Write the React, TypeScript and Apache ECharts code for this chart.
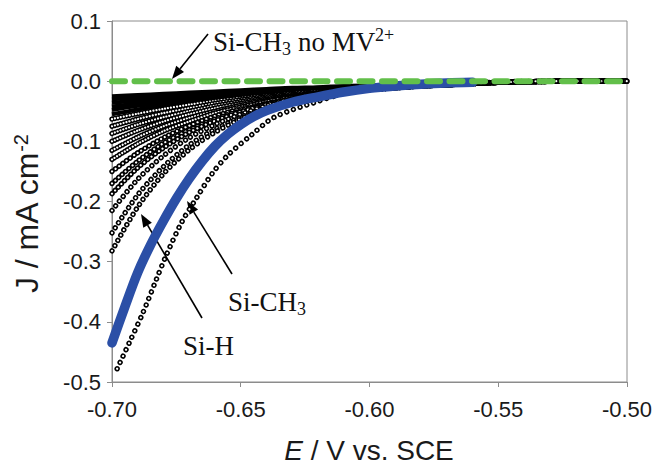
import React, { useEffect, useRef } from "react";
import * as echarts from "echarts";

// ---- data ----
const E_GRID = [-0.70, -0.69, -0.68, -0.67, -0.66, -0.65, -0.64, -0.63, -0.62, -0.61, -0.60, -0.59, -0.58, -0.57, -0.56, -0.55, -0.54, -0.52, -0.50];

const scan01 = [-0.025, -0.023, -0.021, -0.019, -0.017, -0.015, -0.013, -0.011, -0.010, -0.008, -0.007, -0.006, -0.005, -0.004, -0.003, -0.002, -0.001, 0, 0];
const scan02 = [-0.030, -0.027, -0.024, -0.021, -0.019, -0.017, -0.015, -0.013, -0.011, -0.009, -0.008, -0.006, -0.005, -0.004, -0.003, -0.002, -0.001, 0, 0];
const scan03 = [-0.036, -0.032, -0.028, -0.025, -0.022, -0.019, -0.017, -0.015, -0.013, -0.011, -0.009, -0.007, -0.006, -0.004, -0.003, -0.002, -0.001, 0, 0];
const scan04 = [-0.042, -0.037, -0.032, -0.028, -0.024, -0.021, -0.018, -0.016, -0.014, -0.012, -0.010, -0.008, -0.006, -0.005, -0.003, -0.002, -0.001, 0, 0];
const scan05 = [-0.048, -0.041, -0.036, -0.031, -0.026, -0.023, -0.019, -0.017, -0.014, -0.012, -0.010, -0.008, -0.006, -0.005, -0.003, -0.002, -0.001, 0, 0];
const scan06 = [-0.055, -0.047, -0.040, -0.034, -0.029, -0.025, -0.021, -0.018, -0.016, -0.013, -0.011, -0.009, -0.007, -0.005, -0.003, -0.002, -0.001, 0, 0];
const scan07 = [-0.063, -0.054, -0.046, -0.039, -0.033, -0.028, -0.024, -0.020, -0.017, -0.015, -0.012, -0.010, -0.008, -0.005, -0.003, -0.002, -0.001, 0, 0];
const scan08 = [-0.075, -0.063, -0.053, -0.045, -0.037, -0.031, -0.026, -0.022, -0.019, -0.016, -0.013, -0.010, -0.008, -0.006, -0.004, -0.002, -0.001, 0, 0];
const scan09 = [-0.087, -0.072, -0.060, -0.050, -0.041, -0.034, -0.028, -0.024, -0.020, -0.016, -0.013, -0.010, -0.008, -0.006, -0.004, -0.002, -0.001, 0, 0];
const scan10 = [-0.100, -0.082, -0.067, -0.055, -0.045, -0.037, -0.030, -0.025, -0.020, -0.017, -0.014, -0.011, -0.008, -0.006, -0.004, -0.002, -0.001, 0, 0];
const scan11 = [-0.115, -0.093, -0.075, -0.061, -0.050, -0.040, -0.032, -0.026, -0.021, -0.017, -0.014, -0.011, -0.008, -0.006, -0.004, -0.002, -0.001, 0, 0];
const scan12 = [-0.130, -0.104, -0.083, -0.067, -0.053, -0.043, -0.034, -0.027, -0.022, -0.017, -0.014, -0.011, -0.008, -0.006, -0.004, -0.002, -0.001, 0, 0];
const scan13 = [-0.150, -0.119, -0.094, -0.074, -0.058, -0.046, -0.037, -0.029, -0.023, -0.018, -0.014, -0.011, -0.008, -0.006, -0.004, -0.002, -0.001, 0, 0];
const scan14 = [-0.170, -0.133, -0.103, -0.081, -0.063, -0.049, -0.038, -0.030, -0.023, -0.018, -0.014, -0.011, -0.008, -0.006, -0.004, -0.002, -0.001, 0, 0];
const scan15 = [-0.187, -0.144, -0.111, -0.085, -0.066, -0.051, -0.039, -0.030, -0.023, -0.018, -0.014, -0.011, -0.008, -0.006, -0.004, -0.002, -0.001, 0, 0];
const scan16 = [-0.215, -0.163, -0.124, -0.094, -0.072, -0.055, -0.041, -0.032, -0.024, -0.018, -0.014, -0.011, -0.008, -0.006, -0.004, -0.002, -0.001, 0, 0];
const scan17 = [-0.252, -0.189, -0.142, -0.106, -0.080, -0.060, -0.045, -0.034, -0.025, -0.019, -0.014, -0.011, -0.008, -0.006, -0.004, -0.002, -0.001, 0, 0];
const scan18 = [-0.282, -0.209, -0.154, -0.114, -0.085, -0.063, -0.046, -0.034, -0.025, -0.019, -0.014, -0.011, -0.008, -0.006, -0.004, -0.002, -0.001, 0, 0];

// lowest open-circle curve (Si-CH3)
const lowE = [-0.698, -0.693, -0.688, -0.683, -0.679, -0.673, -0.667, -0.661, -0.655, -0.646, -0.637, -0.621, -0.607, -0.595, -0.580, -0.565, -0.550, -0.530, -0.500];
const lowJ = [-0.478, -0.432, -0.385, -0.332, -0.290, -0.235, -0.193, -0.153, -0.123, -0.090, -0.060, -0.035, -0.017, -0.010, -0.005, -0.002, -0.001, 0, 0];

// blue filled-circle curve (Si-H)
const blueE = [-0.700, -0.695, -0.690, -0.685, -0.680, -0.675, -0.670, -0.665, -0.660, -0.655, -0.650, -0.645, -0.640, -0.630, -0.620, -0.610, -0.600, -0.590, -0.580, -0.570, -0.560];
const blueJ = [-0.435, -0.375, -0.318, -0.272, -0.232, -0.195, -0.162, -0.133, -0.108, -0.088, -0.072, -0.059, -0.049, -0.035, -0.026, -0.018, -0.012, -0.008, -0.005, -0.003, -0.002];

// green dashed (Si-CH3 no MV2+)
const greenE = [-0.70, -0.50];
const greenJ = [0, 0];

const X_MIN = -0.70, X_MAX = -0.50, X_STEP = 0.05;
const Y_MIN = -0.5, Y_MAX = 0.1, Y_STEP = 0.1;

const SCANS = [scan01, scan02, scan03, scan04, scan05, scan06, scan07, scan08, scan09, scan10, scan11, scan12, scan13, scan14, scan15, scan16, scan17, scan18];

function zip(xs: number[], ys: number[]) {
  return xs.map((x, i) => [x, ys[i]]);
}

function chain(name: string, data: number[][], spacing: number): any[] {
  const base = {
    type: "line",
    name,
    data,
    symbol: "none",
    showSymbol: false,
    smooth: 0.3,
    silent: true,
  };
  return [
    { ...base, lineStyle: { color: "#000", width: 5.4, type: [0.01, spacing], cap: "round" } },
    { ...base, lineStyle: { color: "#fff", width: 2.2, type: [0.01, spacing], cap: "round" } },
  ];
}

function arrow(x1: number, y1: number, x2: number, y2: number): any {
  const a = Math.atan2(y2 - y1, x2 - x1);
  const L = 13, W = 5;
  const bx = x2 - L * Math.cos(a), by = y2 - L * Math.sin(a);
  const px = -Math.sin(a), py = Math.cos(a);
  return {
    type: "group",
    children: [
      { type: "line", shape: { x1, y1, x2: bx, y2: by }, style: { stroke: "#000", lineWidth: 1.6 } },
      {
        type: "polygon",
        shape: { points: [[x2, y2], [bx + W * px, by + W * py], [bx - W * px, by - W * py]] },
        style: { fill: "#000" },
      },
    ],
  };
}

const SERIF = "'Liberation Serif', 'DejaVu Serif', serif";
const SANS = "'Liberation Sans', Arial, sans-serif";

function label(text: string, x: number, y: number, size: number): any {
  return {
    type: "text", x, y,
    style: {
      text, font: size + "px " + SERIF, fill: "#111",
      align: "left", verticalAlign: "middle", textAlign: "left", textVerticalAlign: "middle",
    },
  };
}

export default function App() {
  const ref = useRef<HTMLDivElement>(null);
  useEffect(() => {
    if (!ref.current) return;
    const chart = echarts.init(ref.current, undefined, { renderer: "svg" });
    const series: any[] = [];
    SCANS.forEach((s, i) => {
      const data = zip(E_GRID, s);
      if (i < 6) {
        series.push({
          type: "line", name: "scan" + (i + 1), data, symbol: "none", showSymbol: false,
          smooth: 0.3, silent: true,
          lineStyle: { color: "#000", width: 4 },
        });
      } else {
        const sp = i < 12 ? 3 : i < 15 ? 4.5 : 6;
        series.push(...chain("scan" + (i + 1), data, sp));
      }
    });
    series.push(...chain("Si-CH3", zip(lowE, lowJ), 7));
    series.push({
      type: "line", name: "Si-H", data: zip(blueE, blueJ), symbol: "none", showSymbol: false,
      smooth: 0.3, clip: false, silent: true,
      lineStyle: { color: "#2b4fa6", width: 9.5, cap: "round", join: "round" },
    });
    series.push({
      type: "line", name: "Si-CH3 no MV2+", data: zip(greenE, greenJ), symbol: "none", showSymbol: false,
      clip: false, silent: true,
      lineStyle: { color: "#62bf4a", width: 6, type: [13, 9.5], cap: "round" },
    });

    const axisGray = "#8c8c8c";
    const ink = "#1a1a1a";
    chart.setOption({
      animation: false,
      backgroundColor: "#fff",
      grid: { left: 112, right: 26, top: 21, bottom: 82, show: true, borderColor: axisGray, borderWidth: 1, containLabel: false, outerBoundsMode: "none" },
      xAxis: {
        type: "value", min: X_MIN, max: X_MAX, interval: X_STEP,
        axisLine: { show: true, onZero: false, lineStyle: { color: axisGray, width: 1 } },
        axisTick: { show: true, inside: false, length: 5, lineStyle: { color: axisGray } },
        splitLine: { show: false },
        axisLabel: { margin: 16, fontSize: 22, color: ink, fontFamily: SANS, formatter: (v: number) => v.toFixed(2) },
      },
      yAxis: {
        type: "value", min: Y_MIN, max: Y_MAX, interval: Y_STEP,
        axisLine: { show: true, onZero: false, lineStyle: { color: axisGray, width: 1 } },
        axisTick: { show: true, inside: false, length: 5, lineStyle: { color: axisGray } },
        splitLine: { show: false },
        axisLabel: { margin: 11, fontSize: 22, color: ink, fontFamily: SANS, formatter: (v: number) => v.toFixed(1) },
      },
      series,
      graphic: [
        {
          type: "text", x: 27, y: 214, rotation: Math.PI / 2,
          style: {
            text: "{a|J / mA cm}{s|-2}",
            align: "center", verticalAlign: "middle", textAlign: "center", textVerticalAlign: "middle",
            fill: ink,
            rich: {
              a: { fontSize: 32, fontFamily: SANS, lineHeight: 32, fill: ink, color: ink },
              s: { fontSize: 20, fontFamily: SANS, lineHeight: 15, verticalAlign: "top", fill: ink, color: ink },
            },
          },
        },
        {
          type: "text", x: 369, y: 450,
          style: {
            text: "{i|E}{a| / V vs. SCE}",
            align: "center", verticalAlign: "middle", textAlign: "center", textVerticalAlign: "middle",
            rich: {
              i: { fontSize: 28, lineHeight: 26, fontFamily: SANS, fontStyle: "italic", fill: ink, color: ink },
              a: { fontSize: 28, lineHeight: 26, fontFamily: SANS, fill: ink, color: ink },
            },
          },
        },
        label("Si-CH", 213, 42, 27),
        label("3", 282, 49, 18),
        label("no MV", 298, 42, 27),
        label("2+", 375, 35, 18),
        label("Si-CH", 228, 302, 27),
        label("3", 297, 309, 18),
        label("Si-H", 183, 346, 27),
        arrow(208, 34, 172, 79),
        arrow(232, 274, 187, 201),
        arrow(202, 318, 141, 214),
      ],
    });
    return () => chart.dispose();
  }, []);
  return <div ref={ref} style={{ position: "fixed", left: 0, top: 0, width: 653, height: 464, background: "#fff" }} />;
}
